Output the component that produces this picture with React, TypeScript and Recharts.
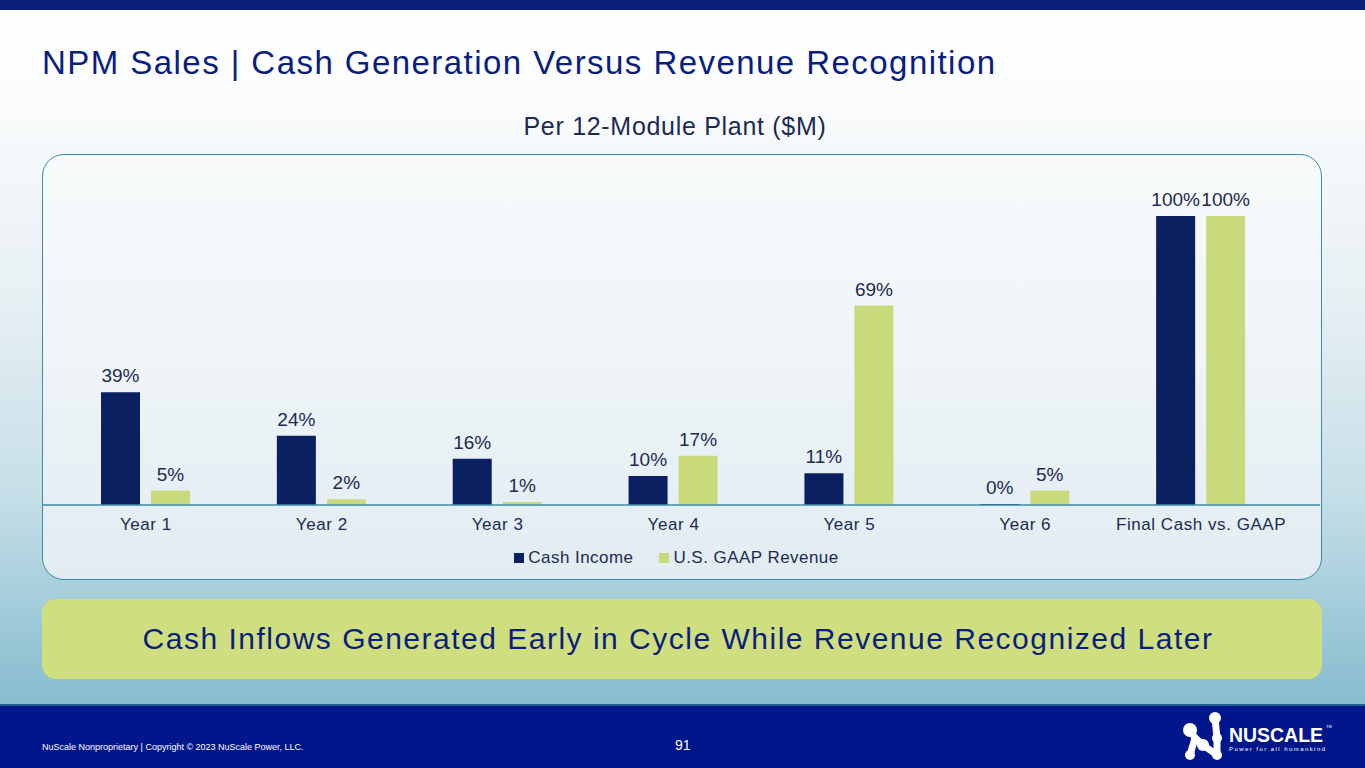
import { BarChart, Bar, XAxis, YAxis, Legend, LabelList } from 'recharts';

const categories = ['Year 1', 'Year 2', 'Year 3', 'Year 4', 'Year 5', 'Year 6', 'Final Cash vs. GAAP'];
const cashIncome = [39, 24, 16, 10, 11, 0, 100];
const gaapRevenue = [5, 2, 1, 17, 69, 5, 100];

const NAVY = '#0a2060';
const GREEN = '#c9da7c';
const TEXT = '#1c2b50';
const FONT = '"Liberation Sans", Arial, sans-serif';

const chartData = categories.map((name, i) => ({
    name,
    cash: cashIncome[i],
    gaap: gaapRevenue[i],
}));

const pct = (v: number) => `${v}%`;

const LegendRow = ({ payload }: any) => (
    <div
        style={{
            display: 'flex',
            justifyContent: 'center',
            gap: 26,
            fontFamily: FONT,
            fontSize: 17,
            letterSpacing: 0.45,
            color: TEXT,
            paddingRight: 10,
            paddingTop: 7,
        }}
    >
        {(payload || []).map((p: any) => (
            <div key={p.value} style={{ display: 'flex', alignItems: 'center' }}>
                <span style={{ width: 10, height: 10, background: p.color, display: 'inline-block', marginRight: 4 }} />
                <span>{p.value}</span>
            </div>
        ))}
    </div>
);

const Logo = () => (
    <svg width={190} height={60} style={{ position: 'absolute', left: 1170, top: 706 }}>
        <g stroke="#fff" strokeWidth={7} strokeLinecap="round" fill="none">
            <line x1={45} y1={12} x2={47} y2={32} />
            <line x1={47} y1={32} x2={47} y2={49} />
            <line x1={20} y1={24} x2={25} y2={32} />
            <line x1={25} y1={32} x2={33} y2={39} />
            <line x1={33} y1={39} x2={47} y2={49} />
            <line x1={25} y1={32} x2={20} y2={49} />
        </g>
        <g fill="#fff">
            <circle cx={45} cy={12} r={6} />
            <circle cx={47} cy={32} r={5} />
            <circle cx={47} cy={49} r={5} />
            <circle cx={20} cy={24} r={7} />
            <circle cx={33} cy={39} r={6} />
            <circle cx={20} cy={49} r={5} />
        </g>
        <text x={59} y={36} fill="#fff" fontFamily={FONT} fontWeight="bold" fontSize={20} textLength={94} lengthAdjust="spacingAndGlyphs">
            NUSCALE
        </text>
        <text x={156} y={22} fill="#fff" fontFamily={FONT} fontSize={4}>TM</text>
        <text x={59} y={45} fill="#fff" fontFamily={FONT} fontSize={6} textLength={96} lengthAdjust="spacing">
            Power for all humankind
        </text>
    </svg>
);

const App = () => {
    return (
        <div
            style={{
                position: 'absolute',
                left: 0,
                top: 0,
                width: 1365,
                height: 768,
                overflow: 'hidden',
                fontFamily: FONT,
                background: 'linear-gradient(180deg, #ffffff 0%, #fbfcfd 12%, #e6eff3 40%, #c4dee7 65%, #95c4d4 85%, #78b3c8 100%)',
            }}
        >
            <div style={{ position: 'absolute', left: 0, top: 0, width: 1365, height: 10, background: '#0b1f78' }} />
            <div style={{ position: 'absolute', left: 42, top: 44, fontSize: 33, color: '#0a1e80', letterSpacing: 1.45, whiteSpace: 'nowrap' }}>
                NPM Sales | Cash Generation Versus Revenue Recognition
            </div>
            <div style={{ position: 'absolute', left: 0, width: 1350, top: 112, textAlign: 'center', fontSize: 25, color: TEXT, letterSpacing: 0.7 }}>
                Per 12-Module Plant ($M)
            </div>

            <div
                style={{
                    position: 'absolute',
                    left: 42,
                    top: 154,
                    width: 1280,
                    height: 426,
                    boxSizing: 'border-box',
                    border: '1.5px solid #3d8ba6',
                    borderRadius: 22,
                    background: 'linear-gradient(180deg, #f8fafb 0%, #eef4f7 50%, #e1ecf2 100%)',
                    overflow: 'hidden',
                }}
            >
                <BarChart
                    width={1277}
                    height={423}
                    data={chartData}
                    margin={{ top: 61, right: 0, left: 0, bottom: 10 }}
                    barSize={39}
                    barGap={11}
                    style={{ fontFamily: FONT }}
                >
                    <XAxis
                        dataKey="name"
                        padding={{ left: 15, right: 31 }}
                        axisLine={{ stroke: '#3d8ba6', strokeWidth: 1.5 }}
                        tickLine={false}
                        tick={{ fill: TEXT, fontSize: 17, letterSpacing: 0.55 }}
                        tickMargin={7}
                        height={36}
                        interval={0}
                    />
                    <YAxis hide domain={[0, 100]} />
                    <Legend verticalAlign="bottom" content={<LegendRow />} />
                    <Bar dataKey="cash" name="Cash Income" fill={NAVY} minPointSize={1} isAnimationActive={false}>
                        <LabelList dataKey="cash" position="top" offset={10} formatter={pct} fill={TEXT} fontSize={19} />
                    </Bar>
                    <Bar dataKey="gaap" name="U.S. GAAP Revenue" fill={GREEN} isAnimationActive={false}>
                        <LabelList dataKey="gaap" position="top" offset={10} formatter={pct} fill={TEXT} fontSize={19} />
                    </Bar>
                </BarChart>
            </div>

            <div
                style={{
                    position: 'absolute',
                    left: 42,
                    top: 599,
                    width: 1280,
                    height: 80,
                    borderRadius: 14,
                    background: '#cfdf7f',
                    display: 'flex',
                    alignItems: 'center',
                    justifyContent: 'center',
                    boxSizing: 'border-box',
                    paddingRight: 8,
                    fontSize: 30,
                    color: '#0a1e80',
                    letterSpacing: 1.5,
                }}
            >
                Cash Inflows Generated Early in Cycle While Revenue Recognized Later
            </div>

            <div style={{ position: 'absolute', left: 0, top: 704, width: 1365, height: 2, background: '#1d5f8c' }} />
            <div style={{ position: 'absolute', left: 0, top: 706, width: 1365, height: 62, background: '#00168a' }} />
            <div style={{ position: 'absolute', left: 42, top: 742, fontSize: 9, color: '#fff', whiteSpace: 'nowrap' }}>
                NuScale Nonproprietary | Copyright © 2023 NuScale Power, LLC.
            </div>
            <div style={{ position: 'absolute', left: 675, top: 737, fontSize: 14, color: '#fff' }}>91</div>
            <Logo />
        </div>
    );
};

export default App;
